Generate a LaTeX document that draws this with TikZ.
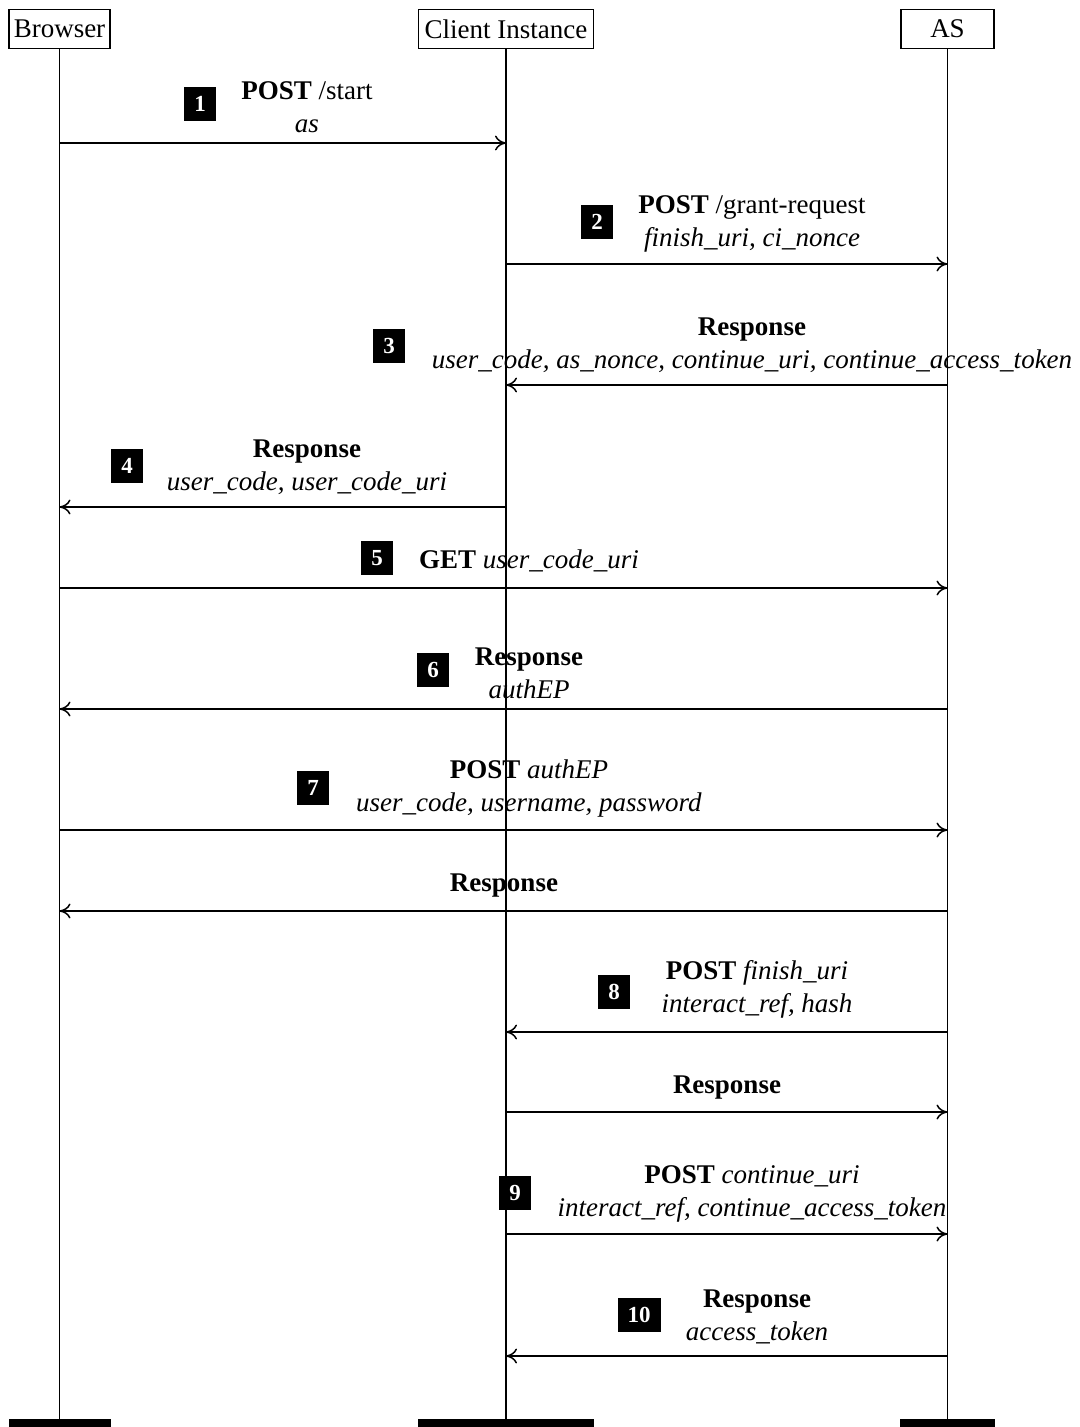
\documentclass[tikz,border=0pt]{standalone}
\usepackage{fontspec}
\setmainfont{Liberation Serif}
\usetikzlibrary{arrows.meta}
\begin{document}
\begin{tikzpicture}[x=1pt,y=-1pt,
  every node/.style={font=\fontsize{27}{33}\selectfont},
  actor/.style={draw, line width=1.3pt, minimum height=39pt, inner sep=0pt},
  foot/.style={fill=black, minimum height=8pt, inner sep=0pt},
  life/.style={line width=1.8pt},
  msg/.style={line width=1.5pt, -{Computer Modern Rightarrow[length=11pt,width=15pt,line width=1.5pt]}},
  badge/.style={fill=black, text=white, font=\fontsize{23}{26}\selectfont\bfseries, inner xsep=10pt, inner ysep=0pt, minimum height=34pt, minimum width=31pt},
  lbl/.style={align=center, inner sep=0pt}
]
\useasboundingbox (0,0) rectangle (1079,1427);
% actors
\node[actor, minimum width=101pt] (B) at (59.5,29) {Browser};
\node[actor, minimum width=175pt] (C) at (506,29) {Client Instance};
\node[actor, minimum width=93pt] (A) at (947.5,29) {AS};
\node[foot, minimum width=102pt] (Bf) at (59.5,1423) {};
\node[foot, minimum width=176pt] (Cf) at (506,1423) {};
\node[foot, minimum width=95pt] (Af) at (947.5,1423) {};
\draw[life] (B.south) -- (Bf.north);
\draw[life] (C.south) -- (Cf.north);
\draw[life] (A.south) -- (Af.north);
% message levels
\coordinate (y1) at (0,143);
\coordinate (y2) at (0,264);
\coordinate (y3) at (0,385);
\coordinate (y4) at (0,507);
\coordinate (y5) at (0,588);
\coordinate (y6) at (0,709);
\coordinate (y7) at (0,830);
\coordinate (y7r) at (0,911);
\coordinate (y8) at (0,1032);
\coordinate (y8r) at (0,1112);
\coordinate (y9) at (0,1234);
\coordinate (y10) at (0,1356);
% arrows
\draw[msg] (B |- y1) -- (C |- y1);
\draw[msg] (C |- y2) -- (A |- y2);
\draw[msg] (A |- y3) -- (C |- y3);
\draw[msg] (C |- y4) -- (B |- y4);
\draw[msg] (B |- y5) -- (A |- y5);
\draw[msg] (A |- y6) -- (B |- y6);
\draw[msg] (B |- y7) -- (A |- y7);
\draw[msg] (A |- y7r) -- (B |- y7r);
\draw[msg] (A |- y8) -- (C |- y8);
\draw[msg] (C |- y8r) -- (A |- y8r);
\draw[msg] (C |- y9) -- (A |- y9);
\draw[msg] (A |- y10) -- (C |- y10);
% labels
\node[lbl] (l1) at (307,107.5) {\textbf{POST} /start\\\textit{as}};
\node[lbl] (l2) at (752,223.5) {\textbf{POST} /grant-request\\\textit{finish\_uri, ci\_nonce}};
\node[lbl] (l3) at (752,345.5) {\textbf{Response}\\\textit{user\_code, as\_nonce, continue\_uri, continue\_access\_token}};
\node[lbl] (l4) at (307,467) {\textbf{Response}\\\textit{user\_code, user\_code\_uri}};
\node[lbl] (l5) at (529,561) {\textbf{GET} \textit{user\_code\_uri}};
\node[lbl] (l6) at (529,673.5) {\textbf{Response}\\\textit{authEP}};
\node[lbl] (l7) at (529,788.5) {\textbf{POST} \textit{authEP}\\\textit{user\_code, username, password}};
\node[lbl] (l7r) at (504,886) {\textbf{Response}};
\node[lbl] (l8) at (757,989.5) {\textbf{POST} \textit{finish\_uri}\\\textit{interact\_ref, hash}};
\node[lbl] (l8r) at (727,1088) {\textbf{Response}};
\node[lbl] (l9) at (752,1193.5) {\textbf{POST} \textit{continue\_uri}\\\textit{interact\_ref, continue\_access\_token}};
\node[lbl] (l10) at (757,1317) {\textbf{Response}\\\textit{access\_token}};
% badges
\node[badge] (b1) at (200,104) {1};
\node[badge] (b2) at (597,222) {2};
\node[badge] (b3) at (389,346) {3};
\node[badge] (b4) at (127,466) {4};
\node[badge] (b5) at (377,558) {5};
\node[badge] (b6) at (433,670) {6};
\node[badge] (b7) at (313,788) {7};
\node[badge] (b8) at (614,992) {8};
\node[badge] (b9) at (515,1193) {9};
\node[badge] (b10) at (639,1315) {10};
\end{tikzpicture}
\end{document}
